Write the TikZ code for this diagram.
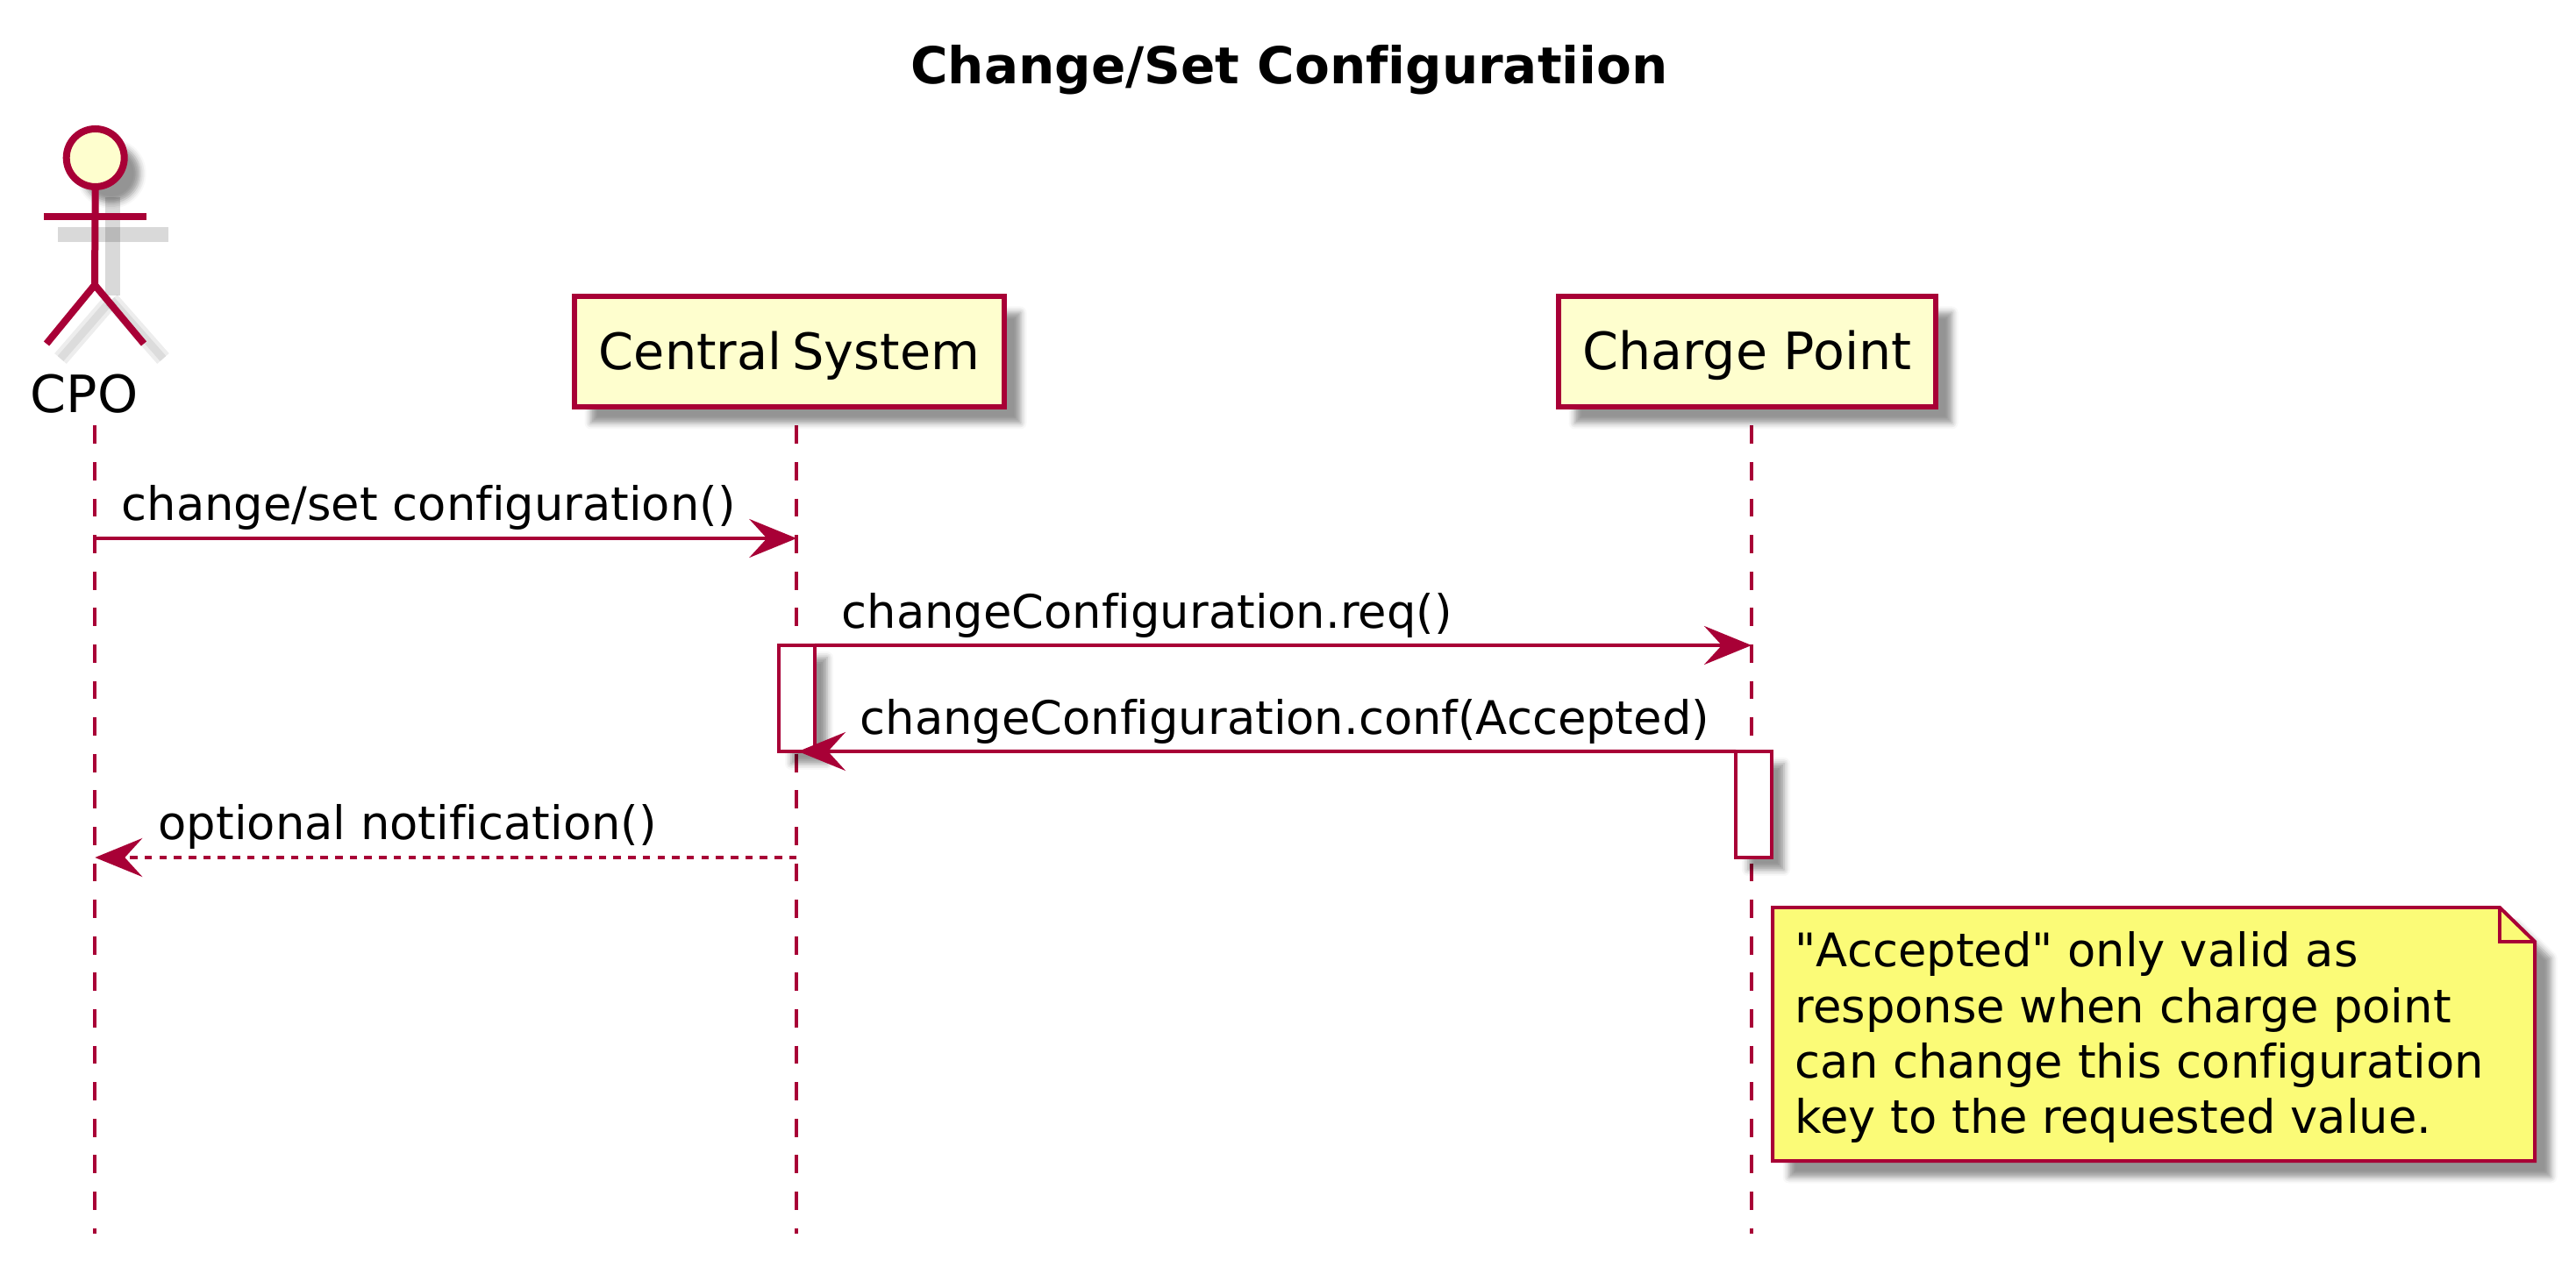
\documentclass[tikz,border=0pt]{standalone}
\usepackage{fontspec}
\setmainfont{DejaVu Sans}[Ligatures={TeXOff,CommonOff}]
\usetikzlibrary{arrows.meta,shadows.blur}
\definecolor{umlline}{HTML}{A80036}
\definecolor{umlfill}{HTML}{FEFECE}
\definecolor{umlnote}{HTML}{FBFB77}
\tikzset{
    softshadow/.style={blur shadow={shadow xshift=#1, shadow yshift=-#1, shadow blur radius=0.07cm, shadow opacity=42}},
    participant/.style={draw=umlline, fill=umlfill, line width=0.065cm, outer sep=0pt, minimum width=#1, minimum height=1.26cm, softshadow=0.185cm, text height=0.51cm, text depth=0.1cm, inner ysep=0pt, font=\fontsize{16.7}{20}\selectfont},
    lifeline/.style={draw=umlline, line width=0.04cm, dash pattern=on 0.208cm off 0.208cm},
    msg/.style={draw=umlline, line width=0.04cm},
    activation/.style={draw=umlline, fill=white, line width=0.04cm, outer sep=0pt, minimum width=0.41cm, minimum height=1.21cm, softshadow=0.14cm},
    msglabel/.style={anchor=base west, inner sep=0pt, font=\fontsize{15}{18}\selectfont},
    stick/.style={draw=umlline, line width=0.08cm},
    stickshadow/.style={draw=black, opacity=0.15, line width=0.17cm},
    legshadow/.style={draw=black, opacity=0.07, line width=#1}
}

\begin{document}
\begin{tikzpicture}[>={Stealth[length=0.54cm, width=0.44cm, inset=0.2cm]}]
    \useasboundingbox (0, 0) rectangle (29.37, 14.52);

    \node[font=\bfseries\fontsize{16.5}{20}\selectfont] (title) at (14.7, 13.72) {Change/Set Configuratiion};

    % Actor shadow
    \draw[stickshadow] (1.285, 12.27) -- (1.285, 11.15);
    \draw[stickshadow] (0.66, 11.845) -- (1.92, 11.845);
    \draw[legshadow=0.18cm] (1.27, 11.1) -- (0.69, 10.43);
    \draw[legshadow=0.18cm] (1.27, 11.1) -- (1.86, 10.43);
    \draw[legshadow=0.09cm] (1.27, 11.1) -- (0.69, 10.43);
    \draw[legshadow=0.09cm] (1.27, 11.1) -- (1.86, 10.43);

    % Actor
    \coordinate (hip) at (1.08, 11.27);
    \coordinate (armL) at (0.5, 12.05);
    \coordinate (armR) at (1.67, 12.05);
    \coordinate (legL) at (0.53, 10.6);
    \coordinate (legR) at (1.64, 10.6);
    \node[stick, fill=umlfill, circle, minimum size=0.66cm, inner sep=0pt, outer sep=0pt, softshadow=0.18cm] (head) at (1.087, 12.72) {};
    \draw[stick] (head.south) -- (hip);
    \draw[stick] (armL) -- (armR);
    \draw[stick] (legL) -- (hip) -- (legR);
    \node[font=\fontsize{16.7}{20}\selectfont, anchor=base] (cpo) at (0.96, 9.81) {CPO};

    % Lifelines
    \coordinate (cpoTop) at (1.083, 9.665);
    \coordinate (cpoEnd) at (1.083, 0.45);
    \coordinate (csTop) at (9.083, 9.665);
    \coordinate (csEnd) at (9.083, 0.45);
    \coordinate (cpTop) at (19.97, 9.665);
    \coordinate (cpEnd) at (19.97, 0.45);
    \draw[lifeline] (cpoTop) -- (cpoEnd);
    \draw[lifeline] (csTop) -- (csEnd);
    \draw[lifeline] (cpTop) -- (cpEnd);

    % Participants
    \node[participant=4.9cm, font=\fontsize{16.3}{20}\selectfont] (cs) at (9.0, 10.51) {Central\hspace{-0.06cm} System};
    \node[participant=4.3cm] (cp) at (19.92, 10.51) {Charge Point};

    % Messages
    \coordinate (cpo1) at (1.083, 8.38);
    \coordinate (cs1) at (9.083, 8.38);
    \coordinate (cp2) at (19.97, 7.16);
    \coordinate (cs3) at (9.1, 5.95);
    \coordinate (cs4) at (9.083, 4.74);
    \coordinate (cpo4) at (1.083, 4.74);

    \draw[msg, ->] (cpo1) -- (cs1);
    \node[msglabel] (m1) at (1.38, 8.58) {change/set configuration()};

    \draw[msg, ->, dash pattern=on 0.085cm off 0.082cm] (cs4) -- (cpo4);
    \node[msglabel] (m4) at (1.8, 4.94) {optional notification()};

    \node[activation] (act1) at (9.085, 6.555) {};
    \node[activation] (act2) at (19.995, 5.345) {};

    \draw[msg, ->] (act1.north east) -- (cp2);
    \node[msglabel] (m2) at (9.59, 7.35) {changeConfiguration.req()};

    \draw[msg, ->] (act2.north west) -- (cs3);
    \node[msglabel] (m3) at (9.8, 6.14) {changeConfiguration.conf(Accepted)};

    % Note
    \draw[draw=umlline, fill=umlnote, line width=0.04cm, softshadow=0.185cm]
        (20.21, 4.17) -- (20.21, 1.28) -- (28.9, 1.28) -- (28.9, 3.78) -- (28.5, 4.17) -- cycle;
    \draw[draw=umlline, line width=0.04cm] (28.5, 4.17) -- (28.5, 3.78) -- (28.9, 3.78);
    \node[anchor=north west, align=left, inner sep=0pt, font=\fontsize{15}{18}\selectfont] (acceptednote) at (20.46, 3.9)
        {"Accepted" only valid as\\response when charge point\\can change this configuration\\key to the requested value.};
\end{tikzpicture}
\end{document}
